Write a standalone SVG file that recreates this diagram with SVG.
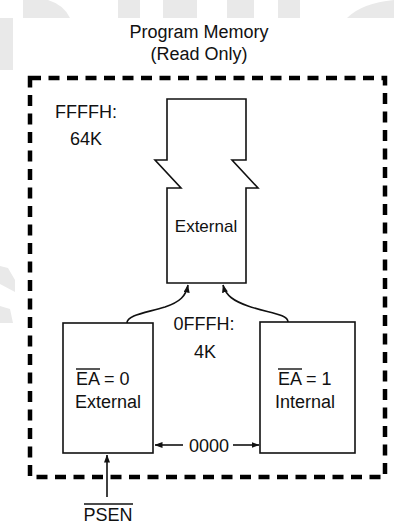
<svg xmlns="http://www.w3.org/2000/svg" width="394" height="524" viewBox="0 0 394 524">
<style>
text{font-family:"Liberation Sans",Arial,sans-serif;font-size:18px;fill:#111}
.c{text-anchor:middle}
.ln{stroke:#111;stroke-width:1.6;fill:none}
.ov{stroke:#111;stroke-width:1.4}
.wm{fill:#e9e9e9}
</style>
<defs>
<marker id="ah" markerWidth="8" markerHeight="6" refX="7.5" refY="3" orient="auto" markerUnits="userSpaceOnUse">
<path d="M0,0 L8,3 L0,6 Z" fill="#111"/>
</marker>
</defs>
<rect width="394" height="524" fill="#fff"/>
<g id="watermark">
<rect class="wm" x="0" y="18" width="13" height="52"/>
<path class="wm" d="M23,0 H48 Q64,5 70,18 H23 Z"/>
<rect class="wm" x="118" y="0" width="22" height="18"/>
<rect class="wm" x="163" y="0" width="34" height="18"/>
<rect class="wm" x="227" y="0" width="27" height="18"/>
<rect class="wm" x="278" y="0" width="22" height="18"/>
<path class="wm" d="M347,18 Q362,3 394,0 V18 Z"/>
<path class="wm" d="M0,266 L8,268 L15,280 L15,292 L0,284 Z"/>
<path class="wm" d="M0,306 L10,309 L13,323 L0,323 Z"/>
</g>
<g id="title">
<text class="c" x="199" y="38">Program Memory</text>
<text class="c" x="199" y="60">(Read Only)</text>
</g>
<g id="boundary">
<rect x="30" y="78" width="355" height="399" fill="none" stroke="#000" stroke-width="4.5" stroke-dasharray="11 7.5"/>
<text x="55" y="118">FFFFH:</text>
<text x="70" y="145">64K</text>
</g>
<g id="external-mem">
<path class="ln" d="M167,160 V99 H246 V160 H232 L258,188 H246 V283 H167 V188 H181 L155,160 Z"/>
<text class="c" x="206" y="232" style="font-size:17px">External</text>
</g>
<g id="ea0">
<rect class="ln" x="63" y="323" width="90" height="130"/>
<text x="76" y="385">EA = 0</text>
<line class="ov" x1="76" y1="369" x2="100" y2="369"/>
<text class="c" x="108" y="408">External</text>
</g>
<g id="ea1">
<rect class="ln" x="260" y="322" width="95" height="131"/>
<text x="278" y="385">EA = 1</text>
<line class="ov" x1="278" y1="369" x2="302" y2="369"/>
<text class="c" x="305" y="408">Internal</text>
</g>
<g id="labels">
<text class="c" x="204" y="330">0FFFH:</text>
<text class="c" x="205" y="358">4K</text>
<text class="c" x="209" y="452">0000</text>
<text class="c" x="108" y="521">PSEN</text>
<line class="ov" x1="84" y1="504" x2="133" y2="504"/>
</g>
<g id="connectors">
<path class="ln" d="M127,323 C127,315 145,313 165,307 C180,302 186,296 188,285" marker-end="url(#ah)"/>
<path class="ln" d="M288,322 C288,314 268,313 248,306 C234,301 226,296 223,285" marker-end="url(#ah)"/>
<line class="ln" x1="183" y1="445" x2="155" y2="445" marker-end="url(#ah)"/>
<line class="ln" x1="233" y1="445" x2="259" y2="445" marker-end="url(#ah)"/>
<line class="ln" x1="107" y1="497" x2="107" y2="455" marker-end="url(#ah)"/>
</g>
</svg>
